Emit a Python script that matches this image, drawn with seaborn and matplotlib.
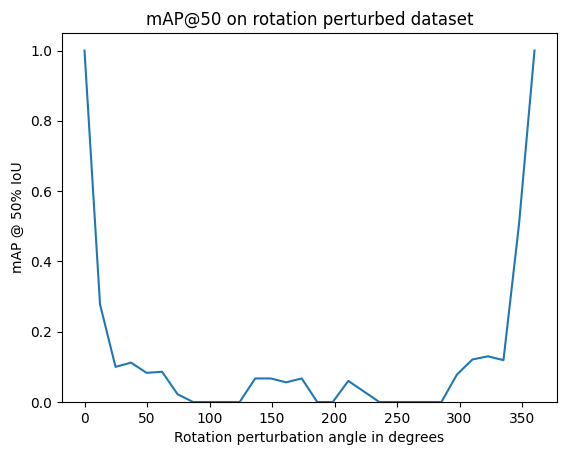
import numpy as np
import pandas as pd
import seaborn as sns
import matplotlib
matplotlib.use("Agg")
import matplotlib.pyplot as plt

# rotation angles (30 evenly spaced steps 0..360) and mAP@50 values
angles = np.linspace(0, 360, 30)
map50 = [1.0, 0.278, 0.100, 0.112, 0.083, 0.086, 0.022, 0.0, 0.0, 0.0,
         0.0, 0.067, 0.067, 0.056, 0.067, 0.0, 0.0, 0.060, 0.030, 0.0,
         0.0, 0.0, 0.0, 0.0, 0.078, 0.121, 0.130, 0.119, 0.505, 1.0]

df = pd.DataFrame({"angle": angles, "map": map50})

fig = plt.figure(figsize=(5.67, 4.55), dpi=100)
ax = fig.add_axes([62 / 567, 1 - 402 / 455, 495 / 567, 369 / 455])
sns.lineplot(data=df, x="angle", y="map", ax=ax, color="tab:blue")

ax.set_ylim(bottom=0)
ax.set_title("mAP@50 on rotation perturbed dataset")
ax.set_xlabel("Rotation perturbation angle in degrees")
ax.set_ylabel("mAP @ 50% IoU")

plt.savefig("out.png", dpi=100)
plt.close()
